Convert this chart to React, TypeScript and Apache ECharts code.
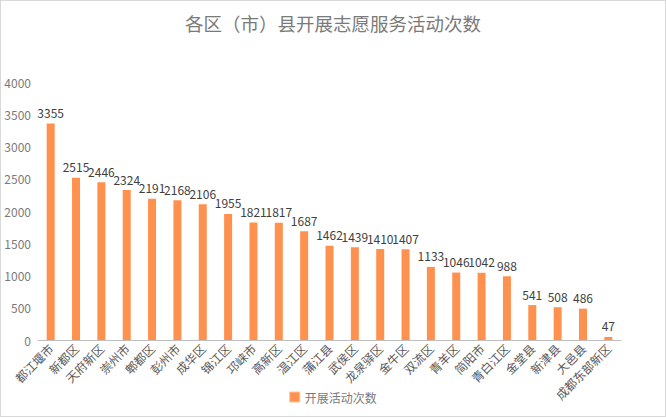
import React, { useEffect, useRef } from "react";
import * as echarts from "echarts";

const categories = [
  "都江堰市", "新都区", "天府新区", "崇州市", "郫都区", "彭州市", "成华区", "锦江区",
  "邛崃市", "高新区", "温江区", "蒲江县", "武侯区", "龙泉驿区", "金牛区", "双流区",
  "青羊区", "简阳市", "青白江区", "金堂县", "新津县", "大邑县", "成都东部新区",
];
const values = [
  3355, 2515, 2446, 2324, 2191, 2168, 2106, 1955, 1821, 1817, 1687, 1462, 1439, 1410,
  1407, 1133, 1046, 1042, 988, 541, 508, 486, 47,
];
const seriesName = "开展活动次数";
const title = "各区（市）县开展志愿服务活动次数";

const FONT = "'Noto Sans CJK SC', 'Microsoft YaHei', sans-serif";

export default function App() {
  const ref = useRef<HTMLDivElement>(null);
  useEffect(() => {
    if (!ref.current) return;
    const chart = echarts.init(ref.current, null, { renderer: "svg" });
    chart.setOption({
      animation: false,
      textStyle: { fontFamily: FONT },
      title: {
        text: title,
        left: "center",
        top: 8,
        textStyle: { fontSize: 18.5, fontWeight: "normal", color: "#7a7a7a", fontFamily: FONT },
      },
      legend: {
        bottom: 8,
        left: "center",
        itemWidth: 10,
        itemHeight: 10,
        icon: "rect",
        itemGap: 4,
        itemStyle: { borderColor: "#FFC09A", borderWidth: 1 },
        textStyle: { fontSize: 12, color: "#7a7a7a", fontFamily: FONT },
        data: [seriesName],
      },
      grid: { left: 37, right: 44, top: 81, bottom: 76, containLabel: false },
      xAxis: {
        type: "category",
        data: categories,
        axisLine: { lineStyle: { color: "#bfbfbf" } },
        axisTick: { show: false },
        axisLabel: {
          rotate: 45,
          interval: 0,
          fontSize: 12,
          color: "#595959",
          fontFamily: FONT,
          margin: 6,
        },
      },
      yAxis: {
        type: "value",
        min: 0,
        max: 4000,
        interval: 500,
        splitLine: { show: false },
        axisLine: { show: false },
        axisTick: { show: false },
        axisLabel: {
          fontSize: 12,
          color: "#7a7a7a",
          fontFamily: FONT,
          margin: 7,
          formatter: (v: number) => String(v),
        },
      },
      series: [
        {
          name: seriesName,
          type: "bar",
          data: values,
          barWidth: 8,
          itemStyle: { color: "#FF914F" },
          label: {
            show: true,
            position: "top",
            fontSize: 12,
            color: "#404040",
            fontFamily: FONT,
            distance: 5,
          },
        },
      ],
    });
    return () => chart.dispose();
  }, []);
  return (
    <div
      style={{
        position: "absolute",
        left: 0,
        top: 0,
        width: 664,
        height: 415,
        border: "1px solid #d9d9d9",
        background: "#fff",
      }}
    >
      <div ref={ref} style={{ width: 664, height: 415 }} />
    </div>
  );
}
